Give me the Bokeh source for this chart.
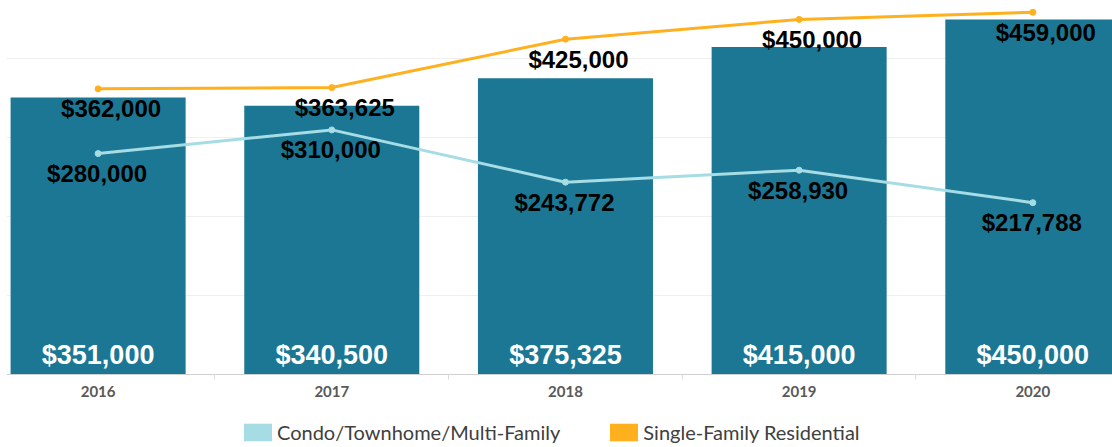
from bokeh.plotting import figure
from bokeh.models import (ColumnDataSource, FixedTicker, Legend, LegendItem, Range1d)
from bokeh.embed import file_html
from bokeh.resources import INLINE
from bokeh.core.properties import value

# ---- data ----
years = ["2016", "2017", "2018", "2019", "2020"]
overall_median = [351000, 340500, 375325, 415000, 450000]
single_family = [362000, 363625, 425000, 450000, 459000]
condo = [280000, 310000, 243772, 258930, 217788]
grid_values = [100000, 200000, 300000, 400000]


def money(v):
    return "${:,}".format(v)


xs = list(range(len(years)))
src = ColumnDataSource(dict(
    x=xs, year=years,
    total=overall_median, sf=single_family, condo=condo,
    total_lbl=[money(v) for v in overall_median],
    sf_lbl=[money(v) for v in single_family],
    condo_lbl=[money(v) for v in condo],
))

BAR = "#1b7793"
LIGHT = "#a6dce4"
ORANGE = "#ffb01f"

# frame covers the full height; the category axis sits at y=0 (374px from top)
p = figure(width=1112, height=447, output_backend="svg", toolbar_location=None,
           x_range=Range1d(-0.392, 4.341), y_range=Range1d(-92500, 474000),
           min_border=0, min_border_left=6, min_border_right=0,
           min_border_top=0, min_border_bottom=0)
p.outline_line_color = None
p.background_fill_color = "white"
p.border_fill_color = "white"

# bars
p.vbar(x="x", top="total", width=0.749, source=src, fill_color=BAR, line_color=None)

# lines
p.line("x", "condo", source=src, line_color=LIGHT, line_width=3)
p.scatter("x", "condo", source=src, size=6, fill_color=LIGHT, line_color=LIGHT)
p.line("x", "sf", source=src, line_color=ORANGE, line_width=3)
p.scatter("x", "sf", source=src, size=6, fill_color=ORANGE, line_color=ORANGE)

# labels
p.text("x", 0, text="total_lbl", source=src, text_color="white",
       text_font=value("Liberation Sans"), text_font_style="bold",
       text_font_size="27px", text_align="center", text_baseline="alphabetic",
       y_offset=-20)
p.text("x", "sf", text="sf_lbl", source=src, text_color="#000000",
       text_font=value("Liberation Sans"), text_font_style="bold",
       text_font_size="24px", text_align="center", text_baseline="alphabetic",
       x_offset=13, y_offset=20)
p.text("x", "condo", text="condo_lbl", source=src, text_color="#000000",
       text_font=value("Liberation Sans"), text_font_style="bold",
       text_font_size="24px", text_align="center", text_baseline="alphabetic",
       x_offset=-1, y_offset=20)

# axes & grid
p.yaxis.visible = False
p.ygrid.ticker = FixedTicker(ticks=grid_values)
p.ygrid.grid_line_color = "#efefef"
p.ygrid.grid_line_width = 1
p.xgrid.visible = False

xa = p.xaxis[0]
xa.fixed_location = 0
xa.ticker = FixedTicker(ticks=xs, minor_ticks=[0.5, 1.5, 2.5, 3.5])
xa.major_label_overrides = {i: y for i, y in zip(xs, years)}
xa.major_tick_line_color = None
xa.major_tick_out = 0
xa.major_tick_in = 0
xa.minor_tick_out = 5
xa.minor_tick_in = 0
xa.minor_tick_line_color = "#dcdcdc"
xa.axis_line_color = "#d0d0d0"
xa.major_label_text_font = "Lato"
xa.major_label_text_font_style = "bold"
xa.major_label_text_font_size = "15px"
xa.major_label_text_color = "#595959"
xa.major_label_standoff = 6

# legend with square swatches
nan = float("nan")
sw_src = ColumnDataSource(dict(l=[nan], r=[nan], b=[nan], t=[nan]))
sw_condo = p.quad(left="l", right="r", bottom="b", top="t", source=sw_src,
                  fill_color=LIGHT, line_color=None)
sw_sf = p.quad(left="l", right="r", bottom="b", top="t", source=sw_src,
               fill_color=ORANGE, line_color=None)
legend = Legend(items=[LegendItem(label="Condo/Townhome/Multi-Family", renderers=[sw_condo]),
                       LegendItem(label="Single-Family Residential", renderers=[sw_sf])],
                orientation="horizontal", location=(234, 3),
                glyph_width=35, glyph_height=22, label_standoff=2, spacing=46,
                padding=0, margin=0, border_line_color=None,
                background_fill_alpha=0,
                label_text_font="Lato", label_text_font_size="20px",
                label_text_color="#404040", label_height=22)
p.add_layout(legend)

open("out.html", "w").write(file_html(p, INLINE))
